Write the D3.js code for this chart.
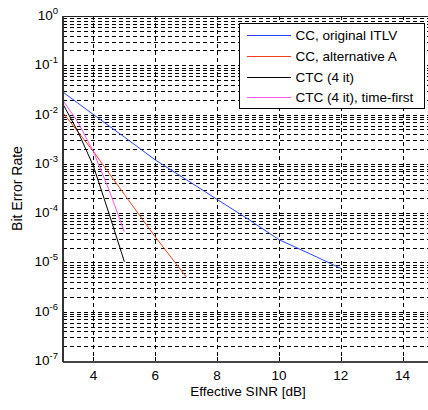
<!DOCTYPE html>
<html>
<head>
<meta charset="utf-8">
<script src="https://cdn.jsdelivr.net/npm/d3@7"></script>
<style>
  html, body { margin: 0; padding: 0; background: #fff; }
  svg { display: block; }
  text { font-family: "Liberation Sans", Arial, sans-serif; fill: #000; }
</style>
</head>
<body>
<svg id="chart" width="428" height="410"></svg>
<script>
// ---- data ----
const seriesNames = ["CC, original ITLV", "CC, alternative A", "CTC (4 it)", "CTC (4 it), time-first"];
const seriesColors = ["#2a46ff", "#f2421e", "#000000", "#ff55f5"];

const snrBlue = [3, 4, 5, 6, 7, 8, 9, 10, 11, 12];
const berBlue = [2.9e-2, 1.0e-2, 3.5e-3, 1.2e-3, 4.8e-4, 1.9e-4, 7.6e-5, 2.9e-5, 1.5e-5, 7.6e-6];

const snrRed = [3, 4, 5, 6, 7];
const berRed = [1.12e-2, 1.78e-3, 2.4e-4, 3.3e-5, 5.1e-6];

const snrBlack = [3, 3.5, 4, 4.5, 5];
const berBlack = [1.7e-2, 4.5e-3, 9.0e-4, 1.0e-4, 1.04e-5];

const snrPink = [3, 3.5, 4, 4.5, 5];
const berPink = [2.0e-2, 7.0e-3, 1.78e-3, 3.0e-4, 4.2e-5];

const xTicks = [4, 6, 8, 10, 12, 14];
const yExponents = [0, -1, -2, -3, -4, -5, -6, -7];

const xLabel = "Effective SINR [dB]";
const yLabel = "Bit Error Rate";

// ---- layout ----
const svg = d3.select("#chart");
const pLeft = 63, pTop = 16, pBottom = 361, pRight = 433.5;
const x = d3.scaleLinear().domain([3, 15]).range([62.5, pRight]);
const y = d3.scaleLog().domain([1e-7, 1]).range([pBottom, pTop]);

const snap = v => Math.round(v) + 0.5;

// grid
const grid = svg.append("g").attr("stroke", "#000").attr("stroke-width", 1)
  .attr("stroke-dasharray", "4,3").attr("shape-rendering", "crispEdges").attr("fill", "none");

const minorVals = [];
for (let e = -7; e < 0; e++) {
  for (let m = 1; m <= 9; m++) {
    const v = m * Math.pow(10, e);
    if (v > 1e-7) minorVals.push(v);
  }
}
grid.selectAll("line.h").data(minorVals).join("line")
  .attr("class", "h")
  .attr("x1", pLeft).attr("x2", 428)
  .attr("y1", d => snap(y(d))).attr("y2", d => snap(y(d)));

grid.selectAll("line.v").data(xTicks).join("line")
  .attr("class", "v")
  .attr("x1", d => snap(x(d))).attr("x2", d => snap(x(d)))
  .attr("y1", pTop).attr("y2", pBottom);

// ticks (inside)
const ticks = svg.append("g").attr("stroke", "#000").attr("shape-rendering", "crispEdges");
ticks.selectAll("line.xb").data(xTicks).join("line")
  .attr("x1", d => snap(x(d))).attr("x2", d => snap(x(d)))
  .attr("y1", pBottom).attr("y2", pBottom - 4);
ticks.selectAll("line.xt").data(xTicks).join("line")
  .attr("x1", d => snap(x(d))).attr("x2", d => snap(x(d)))
  .attr("y1", pTop).attr("y2", pTop + 4);
ticks.selectAll("line.yl").data(minorVals).join("line")
  .attr("x1", pLeft).attr("x2", d => pLeft + (Math.abs(Math.log10(d) - Math.round(Math.log10(d))) < 1e-9 ? 4 : 2))
  .attr("y1", d => snap(y(d))).attr("y2", d => snap(y(d)));

// series lines
const line = d3.line().x(d => x(d[0])).y(d => y(d[1]));
const allSeries = [
  d3.zip(snrBlue, berBlue),
  d3.zip(snrRed, berRed),
  d3.zip(snrBlack, berBlack),
  d3.zip(snrPink, berPink)
];
svg.append("g").selectAll("path").data(allSeries).join("path")
  .attr("d", line)
  .attr("fill", "none")
  .attr("stroke", (d, i) => seriesColors[i])
  .attr("stroke-width", 1);

// axes box
const box = svg.append("g").attr("shape-rendering", "crispEdges");
box.append("line").attr("x1", 62.5).attr("x2", 428).attr("y1", pTop + 0.5).attr("y2", pTop + 0.5)
  .attr("stroke", "#222");
box.append("line").attr("x1", 62.5).attr("x2", 428).attr("y1", pBottom + 0.5).attr("y2", pBottom + 0.5)
  .attr("stroke", "#444").attr("stroke-width", 2);
box.append("line").attr("x1", 62.5).attr("x2", 62.5).attr("y1", pTop).attr("y2", pBottom + 1)
  .attr("stroke", "#333").attr("stroke-width", 2);

// tick labels
svg.append("g").selectAll("text").data(xTicks).join("text")
  .attr("x", d => x(d)).attr("y", 380)
  .attr("text-anchor", "middle").attr("font-size", 13.5)
  .text(d => d);

const yl = svg.append("g").selectAll("text").data(yExponents).join("text")
  .attr("x", 58).attr("y", d => y(Math.pow(10, d)) + 4)
  .attr("text-anchor", "end").attr("font-size", 13.5);
yl.append("tspan").text("10");
yl.append("tspan").attr("dy", -6).attr("font-size", 9.5).text(d => d === 0 ? "0" : "-" + Math.abs(d));

// axis labels
svg.append("text").attr("x", (62.5 + pRight) / 2).attr("y", 396)
  .attr("text-anchor", "middle").attr("font-size", 13.5).text(xLabel);
svg.append("text").attr("transform", "translate(22," + ((pTop + pBottom) / 2) + ") rotate(-90)")
  .attr("text-anchor", "middle").attr("font-size", 14).text(yLabel);

// legend
const lg = svg.append("g");
lg.append("rect").attr("x", 239.5).attr("y", 23.5).attr("width", 185).attr("height", 85)
  .attr("fill", "#fff").attr("stroke", "#000").attr("shape-rendering", "crispEdges");
const rowY = [35, 56, 77, 97];
const rows = lg.selectAll("g.row").data(seriesNames).join("g").attr("class", "row")
  .attr("transform", (d, i) => "translate(0," + rowY[i] + ")");
rows.append("line").attr("x1", 247).attr("x2", 291).attr("y1", 0.5).attr("y2", 0.5)
  .attr("stroke", (d, i) => seriesColors[i]).attr("stroke-width", 1.2);
rows.append("text").attr("x", 295.5).attr("y", 5).attr("font-size", 13.5).text(d => d);
</script>
</body>
</html>
